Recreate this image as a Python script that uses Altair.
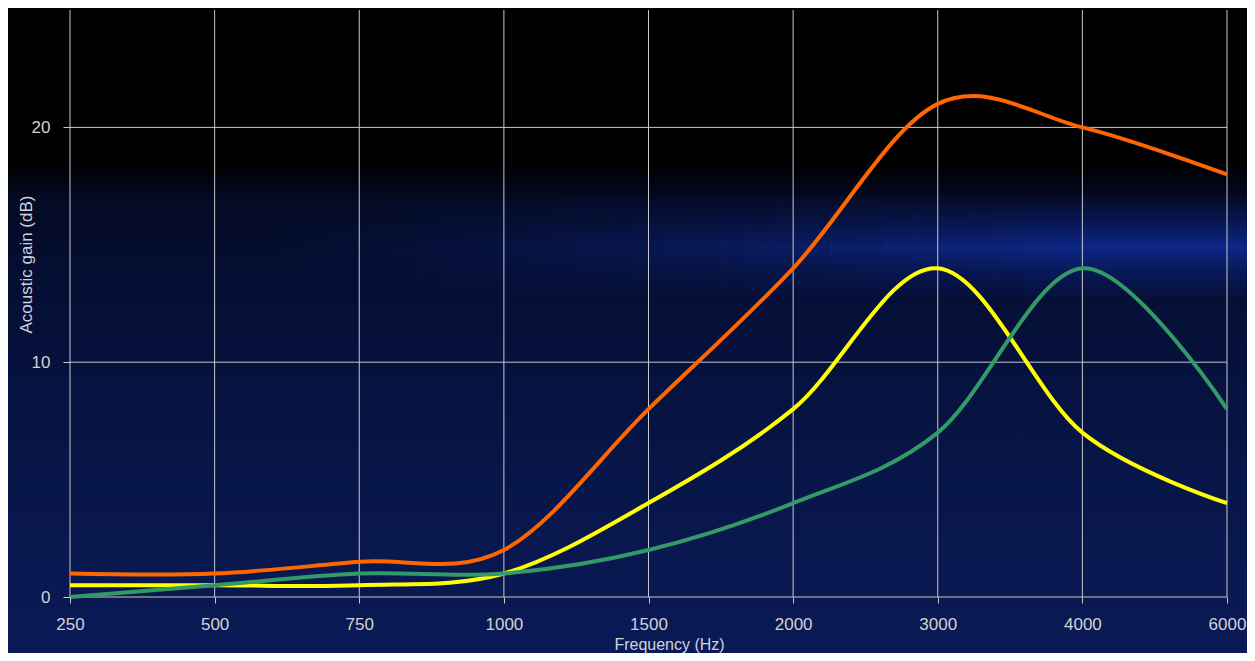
import altair as alt
import pandas as pd

freqs = ["250", "500", "750", "1000", "1500", "2000", "3000", "4000", "6000"]
orange_vals = [1.0, 1.0, 1.5, 2.0, 8.0, 14.0, 21.0, 20.0, 18.0]
yellow_vals = [0.5, 0.5, 0.5, 1.0, 4.0, 8.0, 14.0, 7.0, 4.0]
green_vals = [0.0, 0.5, 1.0, 1.0, 2.0, 4.0, 7.0, 14.0, 8.0]
series_names = ["A", "B", "C"]
series_colors = ["#FF6600", "#FFFF00", "#339966"]
y_ticks = [0, 10, 20]

W, H = 1157, 587
PL, PT, PR, PB = 62, 2, 20, 56

rows = []
for name, vals in zip(series_names, [orange_vals, yellow_vals, green_vals]):
    for f, v in zip(freqs, vals):
        rows.append({"freq": f, "gain": v, "series": name})
df = pd.DataFrame(rows)

xscale = alt.Scale(type="point", domain=freqs, padding=0)
yscale = alt.Scale(domain=[0, 25], nice=False)

font = "Liberation Sans"
xaxis = alt.Axis(title="Frequency (Hz)", labelAngle=0, domain=False, grid=False,
                 tickColor="#c8c8c8", tickSize=6, labelPadding=13,
                 labelFontSize=17, labelColor="#d2d2d2", labelFont=font,
                 titleFontSize=16, titleColor="#cfd3dc", titleFont=font,
                 titleFontWeight="normal", titleX=599, titleY=52,
                 titleAlign="center", titleBaseline="alphabetic", zindex=1)
yaxis = alt.Axis(title="Acoustic gain (dB)", values=y_ticks, domain=False, grid=False,
                 tickColor="#c8c8c8", tickSize=7, labelPadding=13,
                 labelFontSize=17, labelColor="#d2d2d2", labelFont=font,
                 titleFontSize=17, titleColor="#cfd3dc", titleFont=font,
                 titleFontWeight="normal", titleX=-44, titleY=254,
                 titleAlign="center", titleBaseline="middle", zindex=1)

base_gradient = {
    "gradient": "linear",
    "x1": 0, "y1": 0, "x2": 0, "y2": 1,
    "stops": [
        {"offset": 0.0, "color": "#000000"},
        {"offset": 0.243, "color": "#000000"},
        {"offset": 0.30, "color": "#040b26"},
        {"offset": 0.45, "color": "#050f36"},
        {"offset": 0.68, "color": "#071546"},
        {"offset": 1.0, "color": "#0a1a56"},
    ],
}
band_gradient = {
    "gradient": "linear",
    "x1": 0, "y1": 0, "x2": 0, "y2": 1,
    "stops": [
        {"offset": 0.0, "color": "rgba(12,36,130,0)"},
        {"offset": 0.25, "color": "rgba(12,36,130,0.45)"},
        {"offset": 0.5, "color": "rgba(13,40,140,0.95)"},
        {"offset": 0.75, "color": "rgba(12,36,130,0.45)"},
        {"offset": 1.0, "color": "rgba(12,36,130,0)"},
    ],
}

one = pd.DataFrame({"a": [0]})
layers = [
    alt.Chart(one).mark_rect(fill=base_gradient, clip=False).encode(
        x=alt.value(-PL), x2=alt.value(W + PR), y=alt.value(-PT), y2=alt.value(H + PB)
    )
]

# band highlight, fading in from left to right
band_top, band_bot = 195 - 10, 300 - 10
n_strips = 30
x_start, x_full = 250 - 70, 1080 - 70
step = (x_full - x_start) / n_strips
for i in range(n_strips + 1):
    xa = x_start + i * step
    xb = x_start + (i + 1) * step if i < n_strips else W + PR
    op = min(1.0, (i + 0.5) / n_strips) ** 1.3
    layers.append(
        alt.Chart(one).mark_rect(fill=band_gradient, opacity=op, clip=False).encode(
            x=alt.value(xa), x2=alt.value(xb + 0.6), y=alt.value(band_top), y2=alt.value(band_bot)
        )
    )

vgrid = alt.Chart(pd.DataFrame({"freq": freqs})).mark_rule(color="#c8c8c8", strokeWidth=1).encode(
    x=alt.X("freq:N", scale=xscale, sort=freqs, axis=xaxis)
)
hgrid = alt.Chart(pd.DataFrame({"g": y_ticks})).mark_rule(color="#c8c8c8", strokeWidth=1).encode(
    y=alt.Y("g:Q", scale=yscale, axis=yaxis)
)

lines = alt.Chart(df).mark_line(interpolate="cardinal", strokeWidth=4).encode(
    x=alt.X("freq:N", scale=xscale, sort=freqs, axis=xaxis),
    y=alt.Y("gain:Q", scale=yscale, axis=yaxis),
    color=alt.Color("series:N", scale=alt.Scale(domain=series_names, range=series_colors), legend=None),
)

layers += [vgrid, hgrid, lines]

chart = alt.layer(*layers).properties(
    width=W, height=H,
    autosize=alt.AutoSizeParams(type="none"),
    padding={"left": PL, "top": PT, "right": PR, "bottom": PB},
    background="#000000",
).configure_view(stroke=None)

chart.save("out.html", embed_options={"renderer": "svg", "actions": False})
